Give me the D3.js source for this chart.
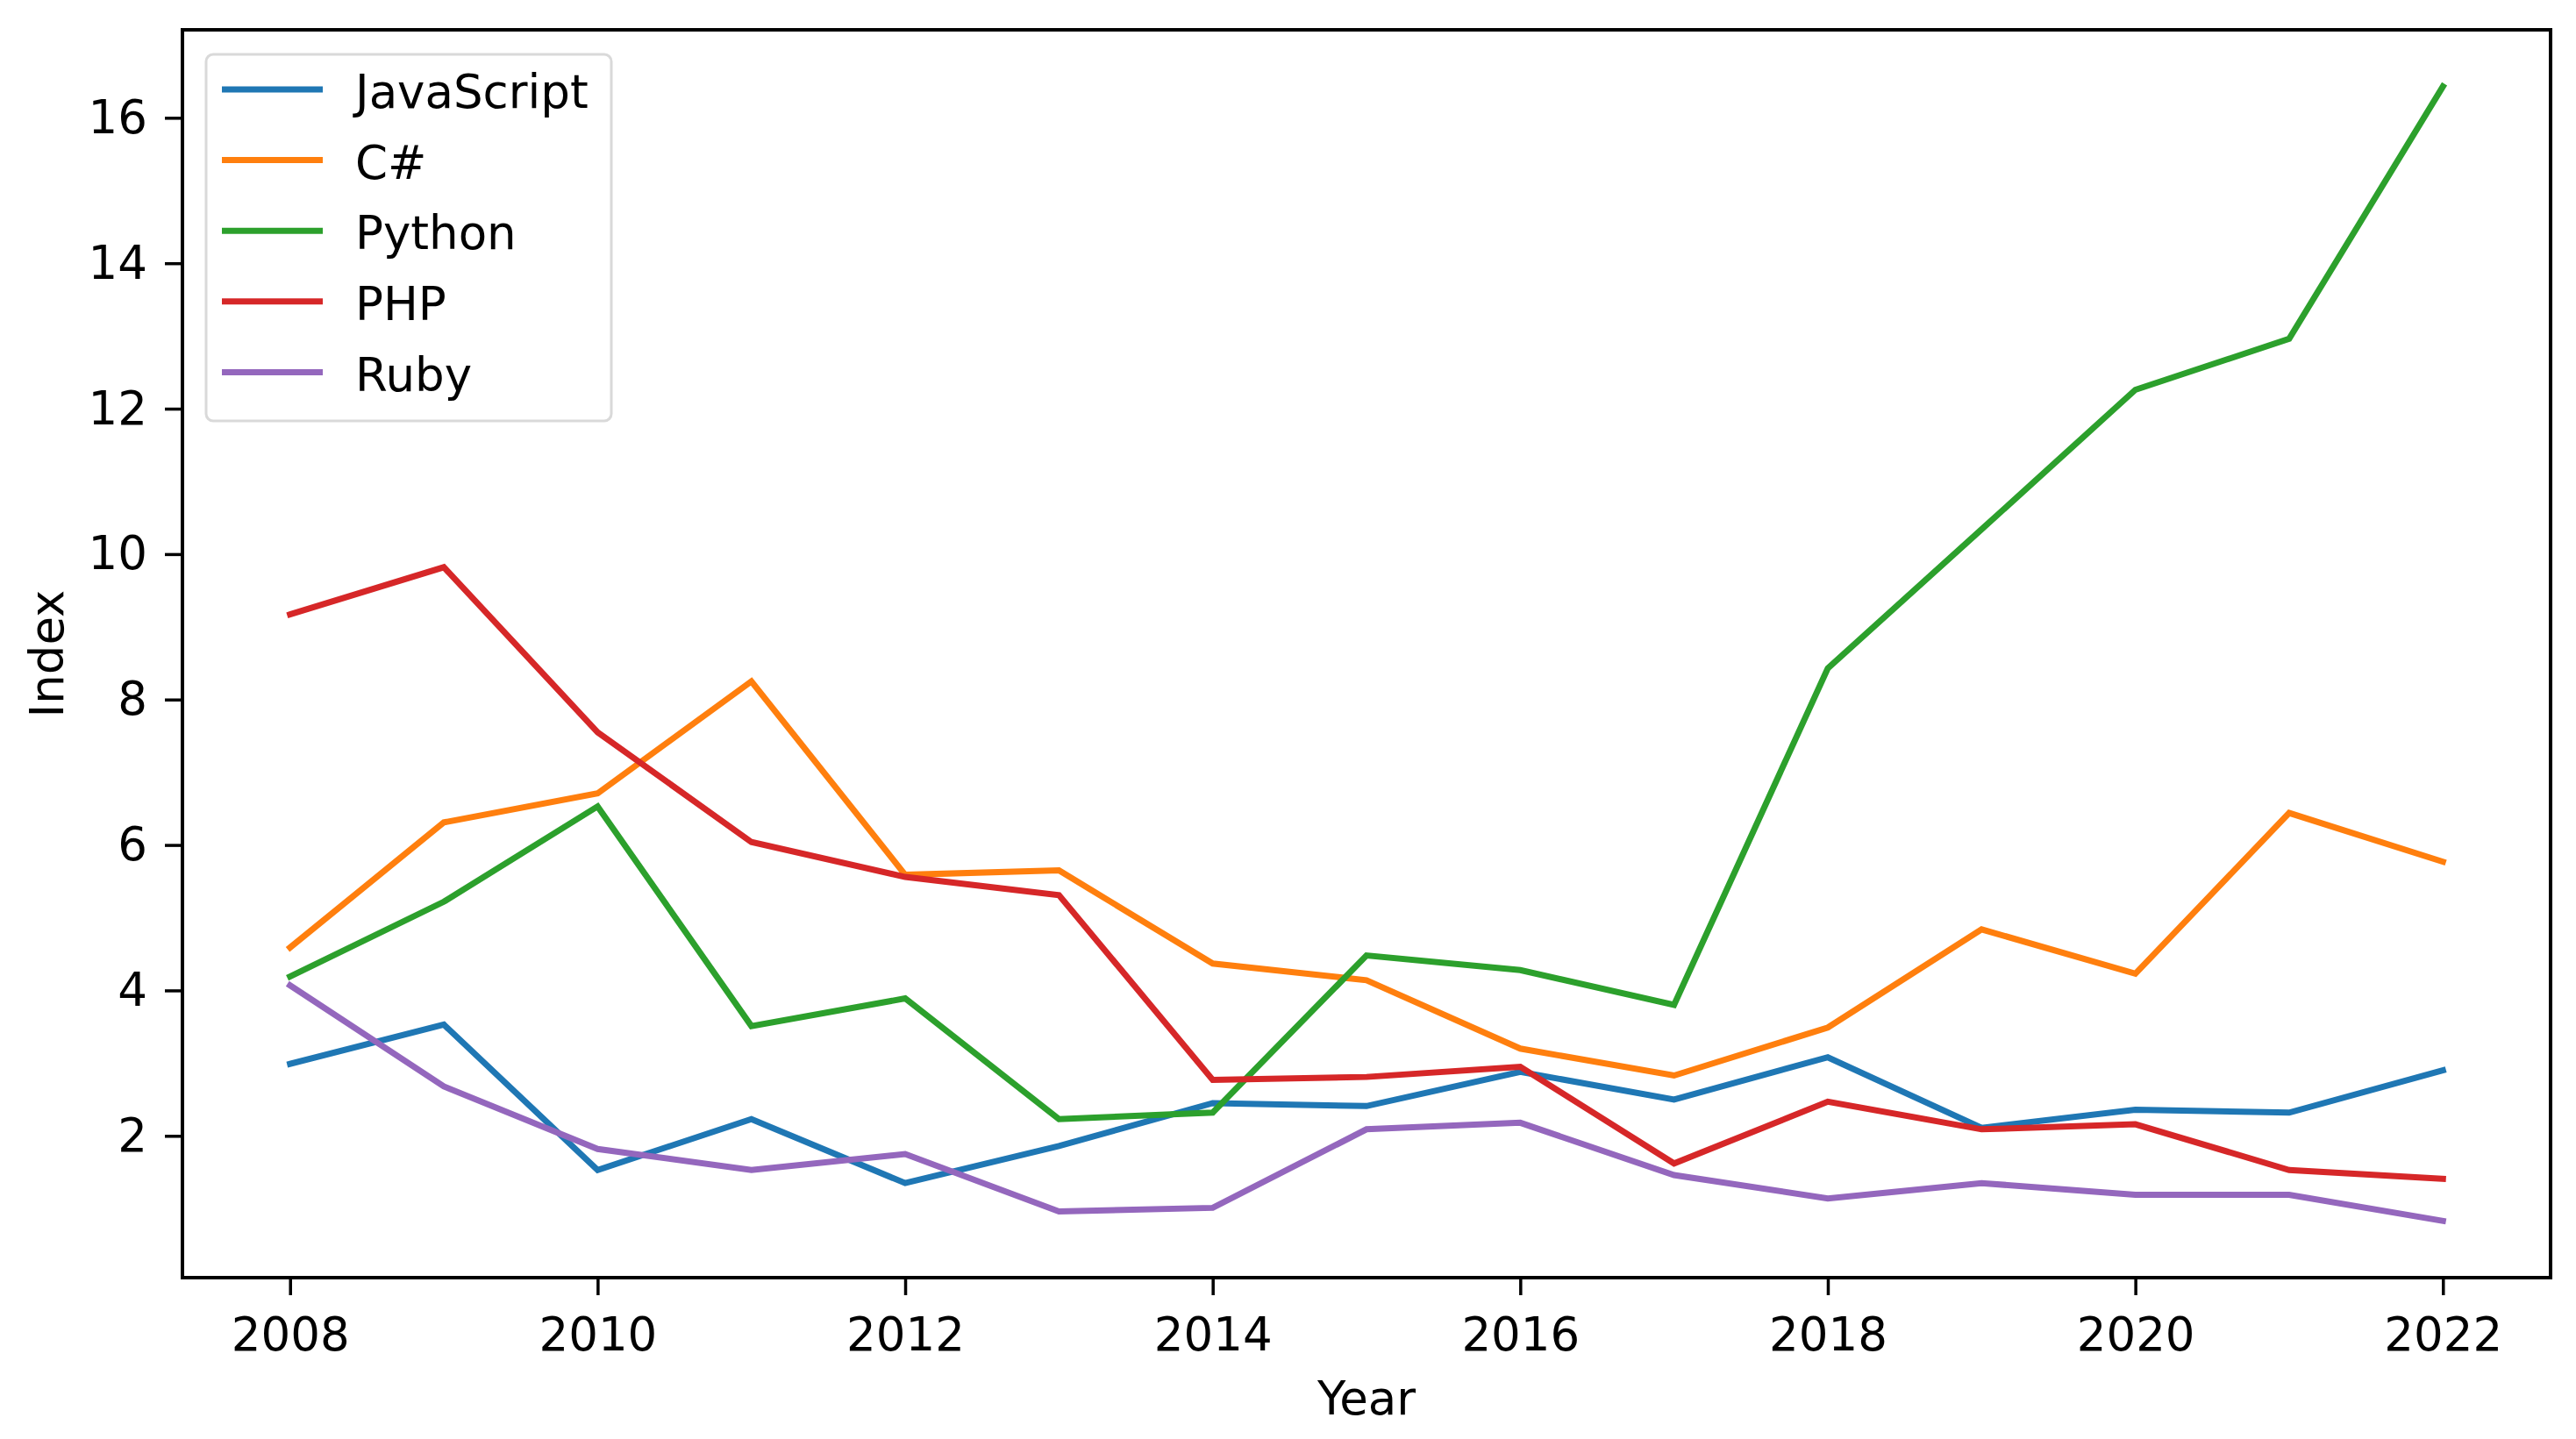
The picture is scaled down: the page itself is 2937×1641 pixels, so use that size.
<!DOCTYPE html>
<html>
<head>
    <title>Index by Year</title>
    <script src="https://d3js.org/d3.v7.min.js"></script>
    <style>
        body { margin: 0; background: #fff; }
        text { font-family: "DejaVu Sans", sans-serif; }
    </style>
</head>
<body>
    <div id="my_dataviz"></div>
    <script>
        // values
        var years = [2008, 2009, 2010, 2011, 2012, 2013, 2014, 2015, 2016, 2017, 2018, 2019, 2020, 2021, 2022];
        var javascript = [2.99, 3.53, 1.53, 2.23, 1.35, 1.86, 2.45, 2.41, 2.88, 2.50, 3.08, 2.11, 2.36, 2.32, 2.90];
        var csharp     = [4.59, 6.31, 6.71, 8.25, 5.59, 5.65, 4.37, 4.14, 3.20, 2.83, 3.49, 4.84, 4.23, 6.44, 5.77];
        var python     = [4.19, 5.22, 6.53, 3.51, 3.89, 2.23, 2.32, 4.48, 4.28, 3.80, 8.43, 10.34, 12.26, 12.96, 16.43];
        var php        = [9.17, 9.82, 7.55, 6.04, 5.56, 5.31, 2.77, 2.81, 2.95, 1.62, 2.47, 2.09, 2.16, 1.53, 1.41];
        var ruby       = [4.07, 2.68, 1.82, 1.53, 1.75, 0.96, 1.01, 2.09, 2.18, 1.46, 1.14, 1.35, 1.19, 1.19, 0.83];

        var languages = ["JavaScript", "C#", "Python", "PHP", "Ruby"];
        var seriesValues = [javascript, csharp, python, php, ruby];
        var colors = ["#1f77b4", "#ff7f0e", "#2ca02c", "#d62728", "#9467bd"];
        var xTicks = [2008, 2010, 2012, 2014, 2016, 2018, 2020, 2022];
        var yTicks = [2, 4, 6, 8, 10, 12, 14, 16];

        var series = languages.map(function(name, i) {
            return {name: name, color: colors[i], values: years.map(function(y, j) { return {year: y, value: seriesValues[i][j]}; })};
        });

        var W = 2937, H = 1641;
        var margin = {top: 34, right: 29, bottom: 184, left: 208},
            width = W - margin.left - margin.right,
            height = H - margin.top - margin.bottom;
        var fontSize = 53;
        var lineWidth = 7;

        var svg = d3.select("#my_dataviz")
            .append("svg")
                .attr("width", W)
                .attr("height", H)
            .append("g")
                .attr("transform", "translate(" + margin.left + "," + margin.top + ")");

        // matplotlib style 5% padding on both axes
        var xPad = (d3.max(years) - d3.min(years)) * 0.05;
        var allVals = d3.merge(seriesValues);
        var yMin = d3.min(allVals), yMax = d3.max(allVals), yPad = (yMax - yMin) * 0.05;

        var x = d3.scaleLinear()
            .domain([d3.min(years) - xPad, d3.max(years) + xPad])
            .range([0, width]);
        var y = d3.scaleLinear()
            .domain([yMin - yPad, yMax + yPad])
            .range([height, 0]);

        var xAxis = svg.append("g")
            .attr("transform", "translate(0," + height + ")")
            .call(d3.axisBottom(x).tickValues(xTicks).tickFormat(d3.format("d")).tickSize(20).tickPadding(25));
        var yAxis = svg.append("g")
            .call(d3.axisLeft(y).tickValues(yTicks).tickSize(20).tickPadding(20));

        [xAxis, yAxis].forEach(function(a) {
            a.select(".domain").remove();
            a.selectAll(".tick line").attr("stroke", "#000").attr("stroke-width", 3.5);
            a.selectAll(".tick text")
                .attr("fill", "#000")
                .style("font-size", fontSize + "px")
                .style("font-family", "DejaVu Sans");
        });

        var line = d3.line()
            .x(function(d) { return x(d.year); })
            .y(function(d) { return y(d.value); });

        svg.selectAll(".series")
            .data(series)
            .enter()
            .append("path")
                .attr("class", "series")
                .attr("d", function(d) { return line(d.values); })
                .attr("fill", "none")
                .attr("stroke", function(d) { return d.color; })
                .attr("stroke-width", lineWidth)
                .attr("stroke-linejoin", "miter")
                .attr("stroke-linecap", "square");

        // frame
        svg.append("rect")
            .attr("x", 0)
            .attr("y", 0)
            .attr("width", width)
            .attr("height", height)
            .attr("fill", "none")
            .attr("stroke", "#000")
            .attr("stroke-width", 4);

        // axis labels
        svg.append("text")
            .attr("x", width / 2)
            .attr("y", height + 156)
            .style("text-anchor", "middle")
            .style("font-size", fontSize + "px")
            .text("Year");
        svg.append("text")
            .attr("transform", "rotate(-90)")
            .attr("x", -height / 2)
            .attr("y", -136)
            .style("text-anchor", "middle")
            .style("font-size", fontSize + "px")
            .text("Index");

        // legend
        var legend = svg.append("g")
            .attr("transform", "translate(27,28)");
        legend.append("rect")
            .attr("width", 462)
            .attr("height", 418)
            .attr("rx", 8)
            .attr("fill", "#fff")
            .attr("fill-opacity", 0.8)
            .attr("stroke", "#d9d9d9")
            .attr("stroke-width", 3);
        var rows = legend.selectAll(".row")
            .data(series)
            .enter()
            .append("g")
                .attr("class", "row")
                .attr("transform", function(d, i) { return "translate(0," + (40 + i * 80.6) + ")"; });
        rows.append("line")
            .attr("x1", 18)
            .attr("x2", 133)
            .attr("stroke", function(d) { return d.color; })
            .attr("stroke-width", lineWidth);
        rows.append("text")
            .attr("x", 170)
            .attr("dy", "0.4em")
            .style("font-size", fontSize + "px")
            .text(function(d) { return d.name; });
    </script>
</body>
</html>
